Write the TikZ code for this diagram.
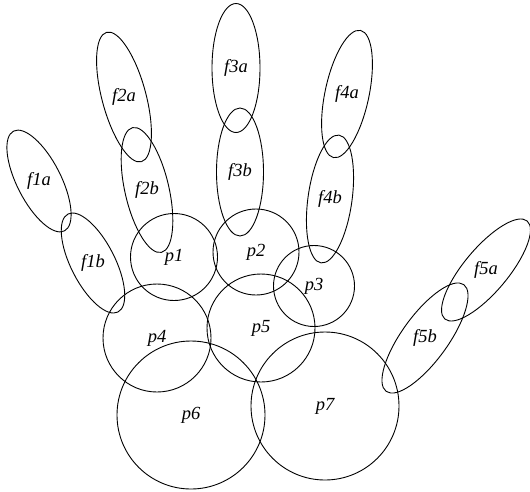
\documentclass[tikz,border=0pt]{standalone}
\usepackage{fontspec}
\setmainfont{Liberation Serif}

\begin{document}
\begin{tikzpicture}[x=1pt, y=1pt, line width=0.9pt,
  part/.style={font=\fontsize{18.5}{18.5}\selectfont\itshape, inner sep=0pt}]

\useasboundingbox (0,0) rectangle (530,-491);

% fingers
\node[part] (f1a) at (39,-181) {f1a};
\node[part] (f1b) at (93,-263) {f1b};
\node[part] (f2a) at (124,-97) {f2a};
\node[part] (f2b) at (147,-190) {f2b};
\node[part] (f3a) at (236,-68) {f3a};
\node[part] (f3b) at (240,-172) {f3b};
\node[part] (f4a) at (347,-94) {f4a};
\node[part] (f4b) at (330,-199) {f4b};
\node[part] (f5a) at (486,-270) {f5a};
\node[part] (f5b) at (425,-338) {f5b};

% palm
\node[part] (p1) at (174,-257) {p1};
\node[part] (p2) at (256,-252) {p2};
\node[part] (p3) at (314,-286) {p3};
\node[part] (p4) at (157,-338) {p4};
\node[part] (p5) at (261,-328) {p5};
\node[part] (p6) at (191,-415) {p6};
\node[part] (p7) at (325,-406) {p7};

% finger outlines
\draw[rotate around={27:(f1a)}] (f1a) ellipse [x radius=22, y radius=56];
\draw[rotate around={27:(f1b)}] (f1b) ellipse [x radius=22, y radius=55];
\draw[rotate around={15:(f2a)}] (f2a) ellipse [x radius=22, y radius=67];
\draw[rotate around={13:(f2b)}] (f2b) ellipse [x radius=22, y radius=64];
\draw (f3a) ellipse [x radius=24, y radius=64.5];
\draw (f3b) ellipse [x radius=23.5, y radius=64];
\draw[rotate around={-12:(f4a)}] (f4a) ellipse [x radius=22, y radius=65];
\draw[rotate around={-8:(f4b)}] (f4b) ellipse [x radius=22, y radius=64.5];
\draw[rotate around={-40:(f5a)}] (f5a) ellipse [x radius=22, y radius=64];
\draw[rotate around={-36:(f5b)}] (f5b) ellipse [x radius=23, y radius=66];

% palm outlines
\draw (p1) circle [radius=43.5];
\draw (p2) circle [radius=43];
\draw (p3) circle [radius=40.5];
\draw (p4) circle [radius=54];
\draw (p5) circle [radius=54];
\draw (p6) circle [radius=74];
\draw (p7) circle [radius=74];

\end{tikzpicture}
\end{document}
